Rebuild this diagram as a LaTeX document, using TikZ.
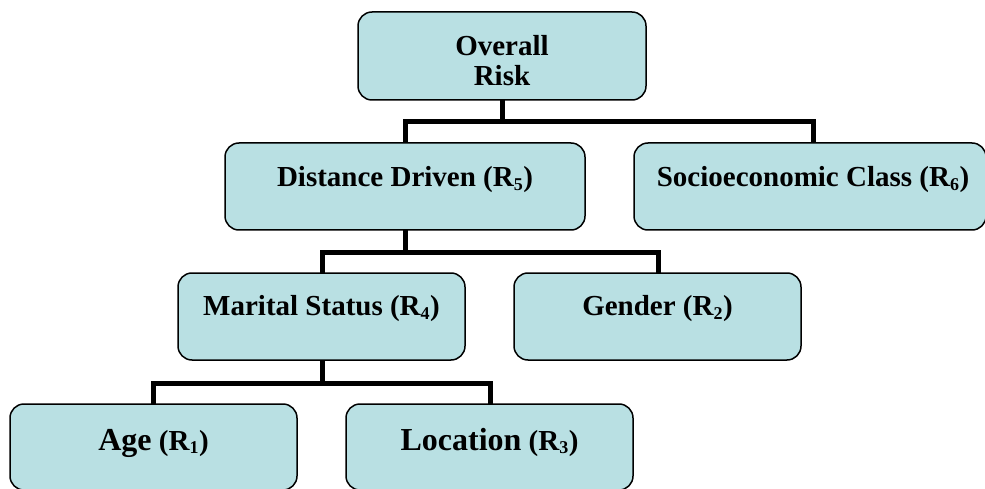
\documentclass[tikz,border=0pt]{standalone}
\usepackage{fontspec}
\setmainfont{Liberation Serif}
\definecolor{boxfill}{RGB}{185,224,227}
\tikzset{
  box/.style={draw=black, line width=1.5pt, fill=boxfill, rounded corners=14pt,
    minimum width=287pt, minimum height=87pt, inner sep=0pt},
  lbl/.style={font=\fontsize{29}{30}\selectfont\bfseries, align=center, inner sep=0pt},
  conn/.style={draw=black, line width=5pt}
}
\newcommand{\rsub}[1]{\textsubscript{\fontsize{18}{18}\selectfont\bfseries #1}}
\newcommand{\bigword}[1]{{\fontsize{32}{32}\selectfont #1}}
\begin{document}
\begin{tikzpicture}[x=1pt,y=-1pt]
\useasboundingbox (0,0) rectangle (985,489);
\begin{scope}
\clip (0,0) rectangle (985,489);
% connectors
\draw[conn] (502,100) coordinate (ovb) -- (502,122) coordinate (j1);
\draw[conn] (405,143) -- (405,122) -- (813,122) -- (813,143);
\draw[conn] (405,230) -- (405,252);
\draw[conn] (322,273) -- (322,252) -- (658,252) -- (658,273);
\draw[conn] (322,360) -- (322,383);
\draw[conn] (153,404) -- (153,383) -- (490,383) -- (490,404);
% boxes
\node[box, minimum width=288pt, minimum height=88pt] (ov) at (502,56) {};
\node[box, minimum width=360pt] (dd) at (405,186.5) {};
\node[box, minimum width=352pt] (so) at (810,186.5) {};
\node[box] (ms) at (321.5,316.5) {};
\node[box] (ge) at (657.5,316.5) {};
\node[box, minimum height=86pt] (ag) at (153.5,447) {};
\node[box, minimum height=86pt] (lo) at (489.5,447) {};
\end{scope}
% labels
\node[lbl] (ovt) at (502,61) {Overall\\Risk};
\node[lbl] (ddt) at (405,180) {Distance Driven (R\rsub{5})};
\node[lbl] (sot) at (813,180) {Socioeconomic Class (R\rsub{6})};
\node[lbl] (mst) at (321.5,309) {Marital Status (R\rsub{4})};
\node[lbl] (get) at (657.5,309) {Gender (R\rsub{2})};
\node[lbl, anchor=base] (agt) at (153.5,450) {\bigword{Age} (R\rsub{1})};
\node[lbl, anchor=base] (lot) at (489.5,450) {\bigword{Location} (R\rsub{3})};
\end{tikzpicture}
\end{document}
